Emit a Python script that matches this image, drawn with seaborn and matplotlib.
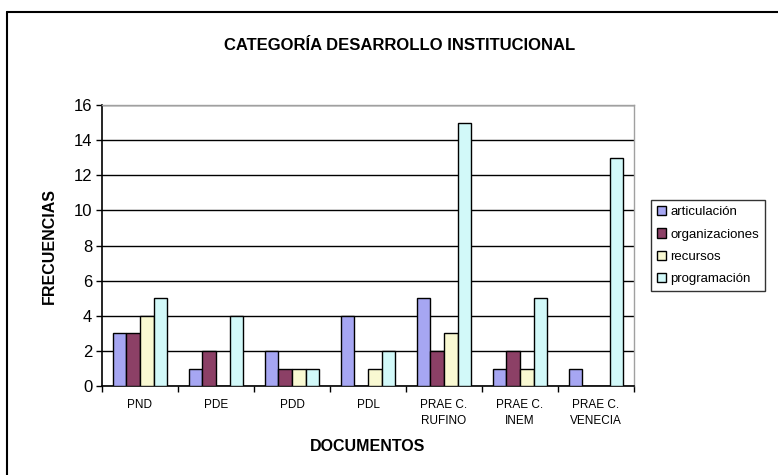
import pandas as pd
import numpy as np
import matplotlib
matplotlib.use("Agg")
import matplotlib.pyplot as plt
import seaborn as sns
from matplotlib.lines import Line2D

# --- DATA ---
documentos = ["PND", "PDE", "PDD", "PDL", "PRAE C.\nRUFINO", "PRAE C.\nINEM", "PRAE C.\nVENECIA"]
series = ["articulación", "organizaciones", "recursos", "programación"]
articulacion = [3, 1, 2, 4, 5, 1, 1]
organizaciones = [3, 2, 1, 0, 2, 2, 0]
recursos = [4, 0, 1, 1, 3, 1, 0]
programacion = [5, 4, 1, 2, 15, 5, 13]
colores = ["#9999FF", "#993366", "#FFFFCC", "#CCFFFF"]

df = pd.DataFrame({
    "documento": documentos * 4,
    "serie": np.repeat(series, len(documentos)),
    "frecuencia": articulacion + organizaciones + recursos + programacion,
})

sns.set_style("white")
plt.rcParams['font.family'] = ['Liberation Sans', 'DejaVu Sans']
plt.rcParams.update({'text.color': 'black', 'axes.labelcolor': 'black',
                     'xtick.color': 'black', 'ytick.color': 'black'})

fig = plt.figure(figsize=(7.78, 4.75), dpi=100)
ax = fig.add_axes([0.131, 0.187, 0.684, 0.592])

sns.barplot(data=df, x="documento", y="frecuencia", hue="serie", palette=colores,
            width=0.72, edgecolor="black", linewidth=1, ax=ax, zorder=3)

ax.set_ylim(0, 16)
ax.set_xlim(-0.5, len(documentos) - 0.5)
ax.set_yticks(range(0, 17, 2))
ax.grid(axis='y', color='black', linewidth=1, zorder=0)
ax.tick_params(axis='y', labelsize=12, length=4, width=1, direction='out', left=True, pad=3)
ax.tick_params(axis='x', labelsize=8.5, length=0, pad=9)
ax.set_xticks(np.arange(-0.5, len(documentos), 1), minor=True)
ax.tick_params(axis='x', which='minor', length=4, width=1, direction='out', bottom=True)
for t in ax.get_xticklabels():
    t.set_linespacing(1.45)

for s in ['left', 'bottom']:
    ax.spines[s].set_color('black')
    ax.spines[s].set_linewidth(1.2)
for s in ['top', 'right']:
    ax.spines[s].set_color('#A0A0A0')
    ax.spines[s].set_linewidth(1)

ax.set_xlabel("DOCUMENTOS", fontsize=11.5, fontweight='bold', labelpad=9)
ax.set_ylabel("FRECUENCIAS", fontsize=11.5, fontweight='bold', labelpad=12)
fig.text(0.514, 0.905, "CATEGORÍA DESARROLLO INSTITUCIONAL", ha='center', va='center',
         fontsize=12, fontweight='bold')

leg = ax.legend(loc='center left', bbox_to_anchor=(1.02, 0.5), frameon=True, fontsize=9.5,
                handlelength=0.7, handleheight=0.7, handletextpad=0.3,
                labelspacing=0.75, borderpad=0.45, fancybox=False, title=None)
leg.get_frame().set_edgecolor('black')
leg.get_frame().set_linewidth(1)
for h in leg.legend_handles:
    h.set_edgecolor('black')
    h.set_linewidth(1)

# chart frame (left and top edges)
fig.add_artist(Line2D([0.009, 0.009], [0.0, 0.975], color='black', linewidth=1.5, transform=fig.transFigure))
fig.add_artist(Line2D([0.009, 1.0], [0.975, 0.975], color='black', linewidth=1.5, transform=fig.transFigure))

fig.savefig("out.png", dpi=100)
